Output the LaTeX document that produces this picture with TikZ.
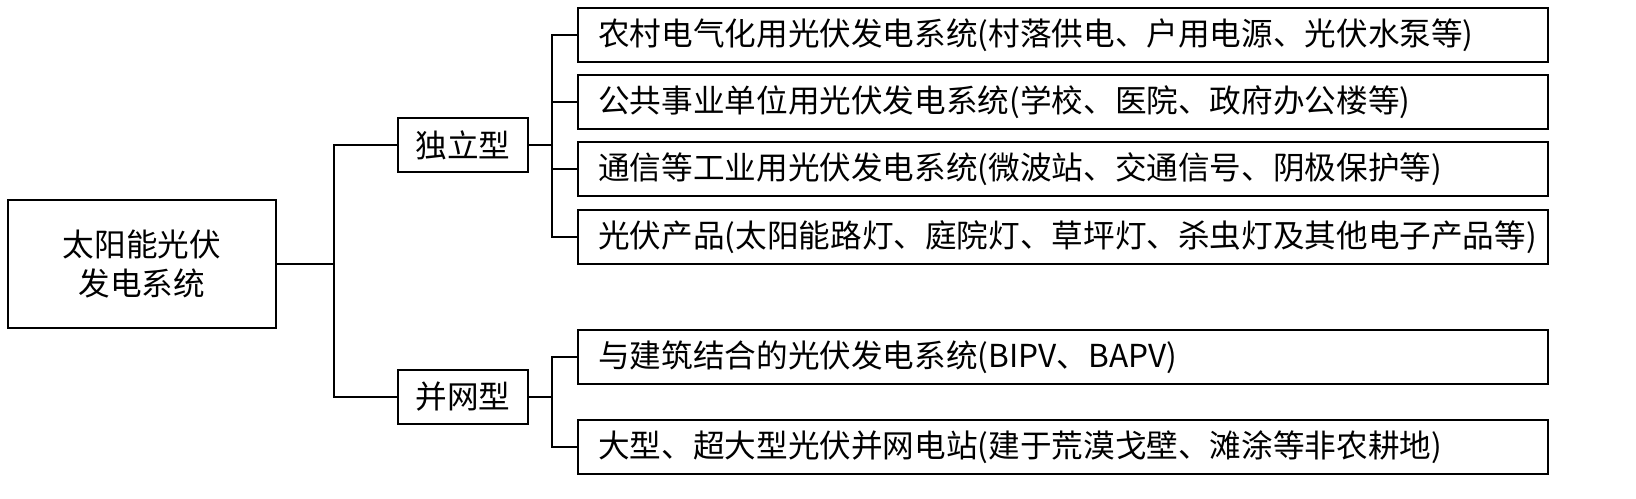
\documentclass[tikz,border=0pt]{standalone}
\usepackage{fontspec}
\setmainfont{Noto Sans CJK SC}
\begin{document}
\begin{tikzpicture}[x=0.02cm,y=-0.02cm,
  bx/.style={draw,line width=1.6pt},
  ln/.style={line width=1.1pt},
  txt/.style={font=\fontsize{18}{22}\selectfont,inner sep=0pt}]
\useasboundingbox (0,0) rectangle (1636,498);
\draw[bx] (8,200) rectangle (276,328);
\node[txt,align=center] (root) at (142,264) {太阳能光伏\\发电系统};
\coordinate (rootE) at (276,264);
\draw[bx] (398,118) rectangle (528,172);
\node[txt] (d) at (463,145) {独立型};
\draw[bx] (398,370) rectangle (528,424);
\node[txt] (b) at (463,397) {并网型};
\coordinate (dW) at (398,145); \coordinate (dE) at (528,145);
\coordinate (bW) at (398,397); \coordinate (bE) at (528,397);
\foreach \n/\y/\t in {r1/8/农村电气化用光伏发电系统(村落供电、户用电源、光伏水泵等),
  r2/75/公共事业单位用光伏发电系统(学校、医院、政府办公楼等),
  r3/142/通信等工业用光伏发电系统(微波站、交通信号、阴极保护等),
  r4/210/光伏产品(太阳能路灯、庭院灯、草坪灯、杀虫灯及其他电子产品等),
  r5/330/与建筑结合的光伏发电系统(BIPV、BAPV),
  r6/420/大型、超大型光伏并网电站(建于荒漠戈壁、滩涂等非农耕地)}
  {\draw[bx] (578,\y) rectangle (1548,\y+54);
   \node[txt,anchor=west] (\n) at (598,\y+27) {\t};
   \coordinate (\n W) at (578,\y+27);}
\coordinate (j0) at (334,264);
\draw[ln] (rootE) -- (j0);
\draw[ln] (dW) -| (j0) |- (bW);
\coordinate (j1) at (552,145);
\coordinate (j2) at (552,397);
\draw[ln] (dE) -- (j1);
\draw[ln] (bE) -- (j2);
\draw[ln] (r1W) -| (j1) |- (r4W);
\draw[ln] (r2W) -- (r2W -| j1);
\draw[ln] (r3W) -- (r3W -| j1);
\draw[ln] (r5W) -| (j2) |- (r6W);
\end{tikzpicture}
\end{document}
